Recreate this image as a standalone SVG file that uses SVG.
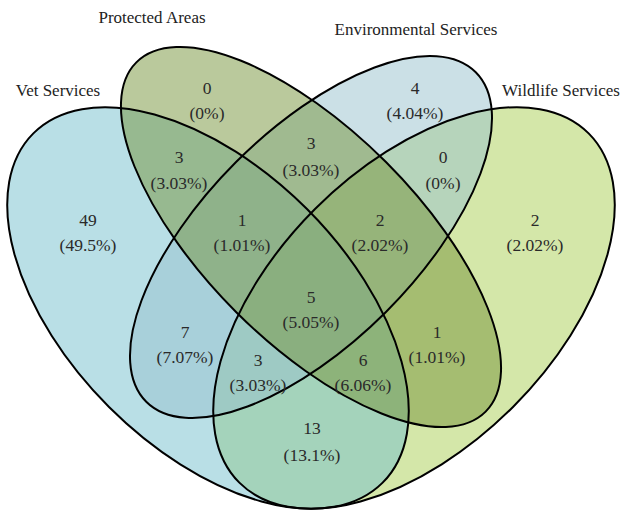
<svg xmlns="http://www.w3.org/2000/svg" xmlns:xlink="http://www.w3.org/1999/xlink" width="623" height="511" viewBox="0 0 623 511">
  <style>
    .area { fill-opacity: 0.5; stroke: none; }
    .outline { fill: none; stroke: #000; stroke-width: 2; }
    .title { font-family: "Liberation Serif", "Times New Roman", serif; font-size: 17px; fill: #222; text-anchor: middle; }
    .count { font-family: "Liberation Serif", "Times New Roman", serif; font-size: 17.5px; fill: #2a2a2a; text-anchor: middle; }
  </style>
  <defs>
    <ellipse id="shape-vet" cx="208" cy="308" rx="247" ry="140" transform="rotate(45 208 308)"/>
    <ellipse id="shape-protected" cx="311" cy="237" rx="247" ry="106" transform="rotate(45 311 237)"/>
    <ellipse id="shape-env" cx="311" cy="237" rx="233" ry="106" transform="rotate(-45 311 237)"/>
    <ellipse id="shape-wildlife" cx="414" cy="308" rx="247" ry="140" transform="rotate(-45 414 308)"/>
  </defs>

  <rect width="623" height="511" fill="#ffffff"/>

  <!-- set areas, semi-transparent so overlaps blend -->
  <g id="wildlife-services">
    <use xlink:href="#shape-wildlife" class="area" fill="#a9cf53"/>
    <text class="title" x="561" y="96">Wildlife Services</text>
  </g>
  <g id="vet-services">
    <use xlink:href="#shape-vet" class="area" fill="#73bfcd"/>
    <text class="title" x="58" y="96">Vet Services</text>
  </g>
  <g id="environmental-services">
    <use xlink:href="#shape-env" class="area" fill="#97c1cd"/>
    <text class="title" x="416" y="35">Environmental Services</text>
  </g>
  <g id="protected-areas">
    <use xlink:href="#shape-protected" class="area" fill="#759339"/>
    <text class="title" x="152" y="23">Protected Areas</text>
  </g>

  <!-- outlines drawn over all fills -->
  <g id="outlines">
    <use xlink:href="#shape-wildlife" class="outline"/>
    <use xlink:href="#shape-vet" class="outline"/>
    <use xlink:href="#shape-env" class="outline"/>
    <use xlink:href="#shape-protected" class="outline"/>
  </g>

  <!-- region counts -->
  <g id="counts">
    <g id="r-protected"><text class="count" x="207" y="94">0</text><text class="count" x="207" y="119">(0%)</text></g>
    <g id="r-env"><text class="count" x="415" y="94">4</text><text class="count" x="415" y="119">(4.04%)</text></g>
    <g id="r-vet-protected"><text class="count" x="179" y="163">3</text><text class="count" x="179" y="189">(3.03%)</text></g>
    <g id="r-protected-env"><text class="count" x="311" y="149">3</text><text class="count" x="311" y="176">(3.03%)</text></g>
    <g id="r-env-wildlife"><text class="count" x="443" y="163">0</text><text class="count" x="443" y="189">(0%)</text></g>
    <g id="r-vet"><text class="count" x="88" y="226">49</text><text class="count" x="88" y="251">(49.5%)</text></g>
    <g id="r-vet-protected-env"><text class="count" x="242" y="226">1</text><text class="count" x="242" y="251">(1.01%)</text></g>
    <g id="r-protected-env-wildlife"><text class="count" x="380" y="226">2</text><text class="count" x="380" y="251">(2.02%)</text></g>
    <g id="r-wildlife"><text class="count" x="535" y="226">2</text><text class="count" x="535" y="251">(2.02%)</text></g>
    <g id="r-all"><text class="count" x="311" y="303">5</text><text class="count" x="311" y="328">(5.05%)</text></g>
    <g id="r-vet-env"><text class="count" x="185" y="338">7</text><text class="count" x="185" y="363">(7.07%)</text></g>
    <g id="r-protected-wildlife"><text class="count" x="437" y="338">1</text><text class="count" x="437" y="363">(1.01%)</text></g>
    <g id="r-vet-env-wildlife"><text class="count" x="258" y="366">3</text><text class="count" x="258" y="391">(3.03%)</text></g>
    <g id="r-vet-protected-wildlife"><text class="count" x="363" y="366">6</text><text class="count" x="363" y="391">(6.06%)</text></g>
    <g id="r-vet-wildlife"><text class="count" x="312" y="434">13</text><text class="count" x="312" y="461">(13.1%)</text></g>
  </g>
</svg>
